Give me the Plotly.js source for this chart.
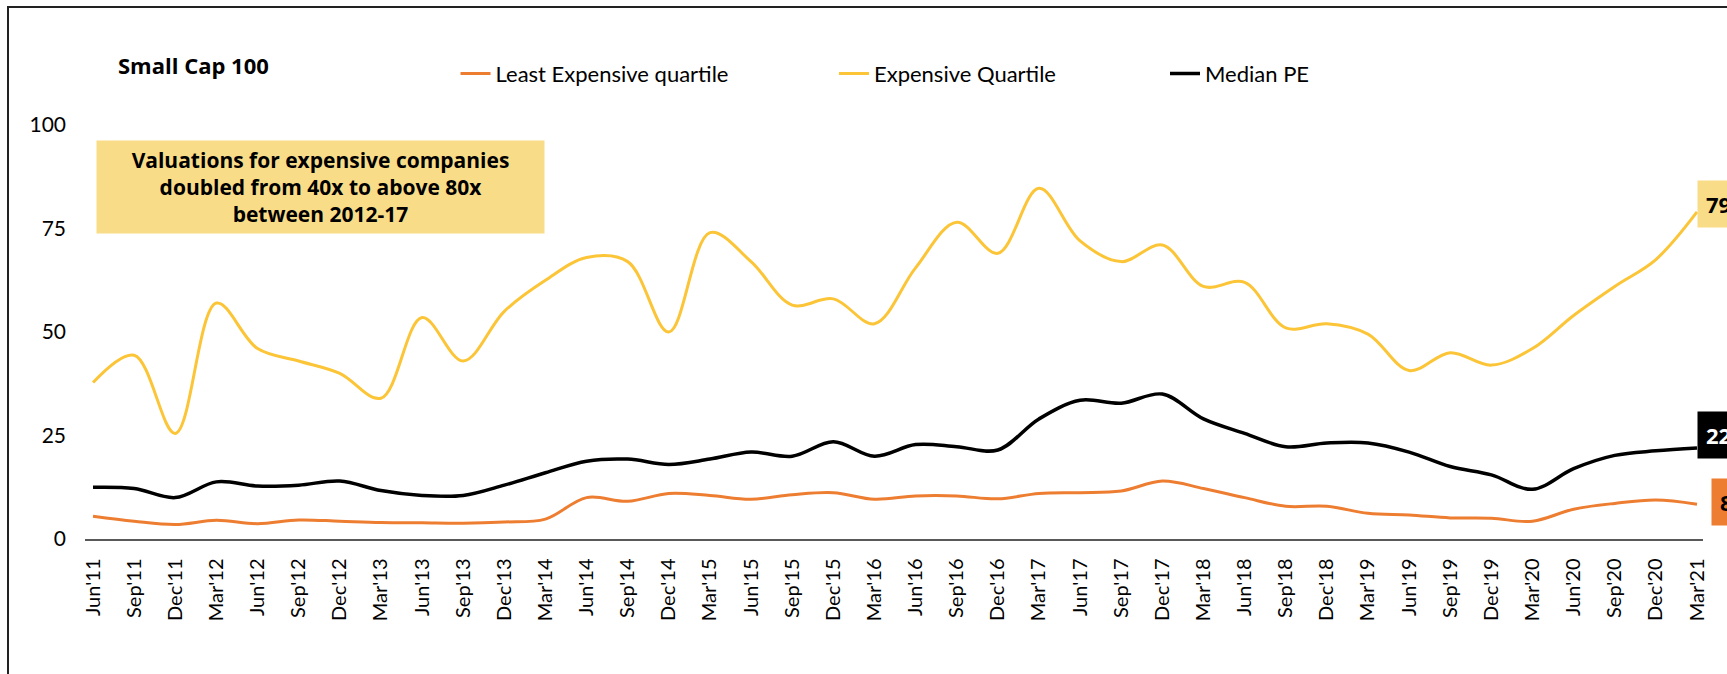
<!DOCTYPE html>
<html>
<head>
<meta charset="utf-8">
<script src="https://cdn.plot.ly/plotly-3.0.1.min.js"></script>
<style>
  html, body { margin: 0; padding: 0; background: #fff; }
  #wrap { position: relative; width: 1727px; height: 674px; overflow: hidden; }
  #chart { position: absolute; left: 0; top: 0; width: 1727px; height: 674px; }
  #frame { position: absolute; left: 7px; top: 6px; width: 1760px; height: 700px;
           border-left: 2px solid #222; border-top: 2px solid #222; pointer-events: none; }
</style>
</head>
<body>
<div id="wrap">
  <div id="chart"></div>
  <div id="frame"></div>
</div>
<script>
// ---- Data ----
const quarters = ["Jun'11","Sep'11","Dec'11","Mar'12","Jun'12","Sep'12","Dec'12","Mar'13","Jun'13","Sep'13",
  "Dec'13","Mar'14","Jun'14","Sep'14","Dec'14","Mar'15","Jun'15","Sep'15","Dec'15","Mar'16",
  "Jun'16","Sep'16","Dec'16","Mar'17","Jun'17","Sep'17","Dec'17","Mar'18","Jun'18","Sep'18",
  "Dec'18","Mar'19","Jun'19","Sep'19","Dec'19","Mar'20","Jun'20","Sep'20","Dec'20","Mar'21"];

const leastExpensive = [5.5,4.3,3.5,4.5,3.7,4.6,4.3,4.0,3.9,3.8,
  4.1,4.8,10.0,9.1,11.0,10.5,9.6,10.7,11.2,9.6,
  10.4,10.4,9.7,11.0,11.2,11.6,14.0,12.2,10.0,7.9,
  7.9,6.2,5.8,5.1,5.0,4.3,7.2,8.6,9.4,8.4];

const expensive = [37.8,44.4,25.5,57.0,46.0,43.0,40.0,34.0,53.5,43.0,
  55.0,62.5,68.0,67.0,50.0,74.0,67.0,56.5,58.0,52.0,
  65.5,76.5,69.0,84.7,72.0,67.0,71.0,61.0,62.0,51.0,
  52.0,49.5,40.7,45.0,42.0,46.0,54.0,61.0,67.5,79.0];

const medianPE = [12.5,12.2,10.0,13.8,12.8,13.0,14.0,11.7,10.5,10.5,
  13.0,16.0,18.8,19.3,18.0,19.3,21.0,20.0,23.5,20.0,
  22.8,22.3,21.5,29.0,33.5,32.8,35.0,29.0,25.5,22.3,
  23.2,23.2,21.0,17.5,15.5,12.0,17.0,20.2,21.3,22.0];

const seriesNames = ["Least Expensive quartile", "Expensive Quartile", "Median PE"];
const yTicks = [0, 25, 50, 75, 100];
const chartTitle = "Small Cap 100";
const noteText = "Valuations for expensive companies<br>doubled from 40x to above 80x<br>between 2012-17";

// ---- Styles ----
const FONT = "Lato, 'Open Sans', sans-serif";
const FONT_WIDE = "'Open Sans', Lato, sans-serif";
const cOrange = "#ED7D31", cYellow = "#FBC537", cBlack = "#000000", cNote = "#F9DC88";
const xIdx = quarters.map((_, i) => i);

function trace(vals, name, color, width, legendId) {
  return {
    x: xIdx, y: vals, name: name, type: "scatter", mode: "lines",
    line: { color: color, width: width, shape: "spline", smoothing: 1 },
    legend: legendId, hoverinfo: "x+y+name"
  };
}

const data = [
  trace(leastExpensive, seriesNames[0], cOrange, 3, "legend"),
  trace(expensive, seriesNames[1], cYellow, 3, "legend2"),
  trace(medianPE, seriesNames[2], cBlack, 3.5, "legend3")
];

const last = a => a[a.length - 1];
const legendCommon = { orientation: "h", yanchor: "middle", y: 1.124, xanchor: "left",
  font: { family: FONT, size: 22, color: "#000" }, bgcolor: "rgba(0,0,0,0)" };

const layout = {
  width: 1727, height: 674,
  margin: { l: 85, r: 24, t: 124.5, b: 135.4 },
  paper_bgcolor: "#fff", plot_bgcolor: "#fff",
  font: { family: FONT, size: 20, color: "#000" },
  title: { text: "<b>" + chartTitle + "</b>", x: 118 / 1727, xanchor: "left", xref: "container",
           y: 1 - 66 / 674, yanchor: "middle", yref: "container",
           font: { family: FONT_WIDE, size: 22, color: "#000" } },
  showlegend: true,
  legend: Object.assign({}, legendCommon, { x: 0.229 }),
  legend2: Object.assign({}, legendCommon, { x: 0.4629 }),
  legend3: Object.assign({}, legendCommon, { x: 0.6675 }),
  xaxis: {
    range: [-0.195, 39.146], tickmode: "array", tickvals: xIdx, ticktext: quarters,
    tickangle: -90, showgrid: false, zeroline: false, showline: true,
    linecolor: "#595959", linewidth: 1.5, ticks: "", ticklabelstandoff: 10,
    tickfont: { family: FONT, size: 20, color: "#000" }
  },
  yaxis: {
    range: [0, 100], tickmode: "array", tickvals: yTicks, ticktext: yTicks.map(String),
    showgrid: false, zeroline: false, showline: false, ticks: "", ticklabelstandoff: 18,
    tickfont: { family: FONT, size: 21, color: "#000" }
  },
  annotations: [
    { xref: "paper", yref: "paper", x: (320.5 - 85) / 1618, y: (538.6 - 187) / 414.1,
      xanchor: "center", yanchor: "middle", showarrow: false, text: "<b>" + noteText + "</b>",
      bgcolor: cNote, width: 447, height: 92, borderpad: 0, align: "center",
      font: { family: FONT_WIDE, size: 21, color: "#000" } },
    { xref: "x", yref: "y", x: 39, y: last(expensive), xanchor: "left", yanchor: "middle",
      xshift: 0, yshift: 8, showarrow: false, text: "<b>" + Math.round(last(expensive)) + "</b>",
      bgcolor: cNote, borderpad: 8, font: { family: FONT_WIDE, size: 22, color: "#000" } },
    { xref: "x", yref: "y", x: 39, y: last(medianPE), xanchor: "left", yanchor: "middle",
      xshift: 0, yshift: 13, showarrow: false, text: "<b>" + Math.round(last(medianPE)) + "</b>",
      bgcolor: cBlack, borderpad: 8, font: { family: FONT_WIDE, size: 22, color: "#fff" } },
    { xref: "x", yref: "y", x: 39, y: last(leastExpensive), xanchor: "left", yanchor: "middle",
      xshift: 14, yshift: 2, showarrow: false, text: "<b>" + Math.round(last(leastExpensive)) + "</b>",
      bgcolor: cOrange, borderpad: 8, font: { family: FONT_WIDE, size: 22, color: "#000" } }
  ]
};

Plotly.newPlot("chart", data, layout, { displayModeBar: false, staticPlot: true });
</script>
</body>
</html>
